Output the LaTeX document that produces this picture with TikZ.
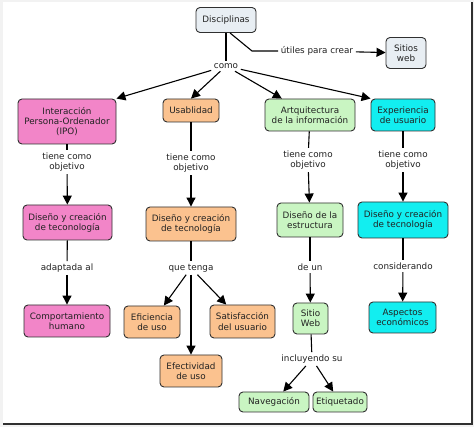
\documentclass[tikz,border=0pt]{standalone}
\usepackage{fontspec}
\setmainfont{DejaVu Sans}
\usetikzlibrary{arrows.meta}
\definecolor{cblue}{HTML}{E8EEF3}
\definecolor{cpink}{HTML}{F285C8}
\definecolor{corange}{HTML}{FBC28F}
\definecolor{cgreen}{HTML}{C9F5C2}
\definecolor{ccyan}{HTML}{12EEF0}
\definecolor{ctext}{HTML}{222222}
\definecolor{cborder}{HTML}{303030}
\tikzset{
  concept/.style={draw=cborder, line width=0.9pt, rounded corners=4pt, align=center,
    inner sep=1pt, text=ctext, font=\fontsize{8.8}{10.2}\selectfont},
  bluebox/.style={concept, fill=cblue},
  pinkbox/.style={concept, fill=cpink},
  orangebox/.style={concept, fill=corange},
  greenbox/.style={concept, fill=cgreen},
  cyanbox/.style={concept, fill=ccyan},
  lbl/.style={align=center, inner sep=2.5pt, text=ctext, font=\fontsize{8.8}{10.2}\selectfont},
  link/.style={draw=black, line width=1.1pt},
  arr/.style={link, -{Triangle[length=9pt,width=9pt]}},
}
\begin{document}
\begin{tikzpicture}[x=1pt,y=-1pt]
\useasboundingbox (0,0) rectangle (474,427);
% frame
\fill[gray!10] (0,0) rectangle (474,427);
\fill[white] (3,2) rectangle (472,424);
\draw[cborder, line width=1.2pt] (3,424) -- (472,424) -- (472,2);

% concepts
\node[bluebox, minimum width=60pt, minimum height=25pt] (disc) at (226,20) {Disciplinas};
\node[bluebox, minimum width=40pt, minimum height=31pt] (sitios) at (406,53) {Sitios\\web};

\node[pinkbox, minimum width=98pt, minimum height=45pt] (ipo) at (67,121.5) {Interacción\\Persona-Ordenador\\(IPO)};
\node[orangebox, minimum width=56pt, minimum height=23pt] (usab) at (191,110.5) {Usablidad};
\node[greenbox, minimum width=90pt, minimum height=32pt] (arq) at (310,115) {Artquitectura\\de la información};
\node[cyanbox, minimum width=64pt, minimum height=32pt] (exp) at (403,115) {Experiencia\\de usuario};

\node[pinkbox, minimum width=89pt, minimum height=35pt] (ipo2) at (67.5,222.5) {Diseño y creación\\de teconología};
\node[orangebox, minimum width=90pt, minimum height=34pt] (usab2) at (191,224) {Diseño y creación\\de tecnología};
\node[greenbox, minimum width=66pt, minimum height=34pt] (arq2) at (310,220) {Diseño de la\\estructura};
\node[cyanbox, minimum width=90pt, minimum height=36pt] (exp2) at (403,220) {Diseño y creación\\de tecnología};

\node[pinkbox, minimum width=86pt, minimum height=32pt] (comp) at (67,321) {Comportamiento\\humano};
\node[orangebox, minimum width=56pt, minimum height=32pt] (efic) at (152,322) {Eficiencia\\de uso};
\node[orangebox, minimum width=65pt, minimum height=33pt] (satis) at (242.5,321.5) {Satisfacción\\del usuario};
\node[orangebox, minimum width=62pt, minimum height=32pt] (efect) at (191,371) {Efectividad\\de uso};
\node[greenbox, minimum width=35pt, minimum height=31pt] (sitio) at (310.5,318.5) {Sitio\\Web};
\node[cyanbox, minimum width=67pt, minimum height=31pt] (aspect) at (402.5,317.5) {Aspectos\\económicos};
\node[greenbox, minimum width=70pt, minimum height=20pt] (nav) at (274,402) {Navegación};
\node[greenbox, minimum width=54pt, minimum height=20pt] (etiq) at (340,402) {Etiquetado};

% linking phrases
\node[lbl] (como) at (226,66) {como};
\node[lbl] (utiles) at (317,51) {útiles para crear};
\node[lbl] (tiene1) at (67,162) {tiene como\\objetivo};
\node[lbl] (tiene2) at (191,163) {tiene como\\objetivo};
\node[lbl] (tiene3) at (308,160) {tiene como\\objetivo};
\node[lbl] (tiene4) at (403,160) {tiene como\\objetivo};
\node[lbl] (adapt) at (67,268) {adaptada al};
\node[lbl] (quet) at (191,268) {que tenga};
\node[lbl] (deun) at (310,267) {de un};
\node[lbl] (consid) at (403,266) {considerando};
\node[lbl] (incl) at (312,359) {incluyendo su};
\coordinate (bend) at (252,51);

% connectors
\draw[link] (disc.south) -- (como);
\draw[link] ([xshift=4pt]disc.south) -- (bend) -- (utiles.west);
\draw[arr] (utiles) -- (sitios);
\draw[arr] (como) -- (ipo.north east);
\draw[arr] (como) -- (usab.north);
\draw[arr] (como) -- (arq);
\draw[arr] (como) -- (exp.north west);

\draw[link] (ipo) -- (tiene1);
\draw[arr] (tiene1) -- (ipo2);
\draw[link] (usab) -- (tiene2);
\draw[arr] (tiene2) -- (usab2);
\draw[link] (arq) -- (tiene3);
\draw[arr] (tiene3) -- (arq2);
\draw[link] (exp) -- (tiene4);
\draw[arr] (tiene4) -- (exp2);

\draw[link] (ipo2) -- (adapt);
\draw[arr] (adapt) -- (comp);
\draw[link] (usab2) -- (quet);
\draw[arr] (quet) -- (efic);
\draw[arr] (quet) -- (efect);
\draw[arr] (quet) -- (satis);
\draw[link] (arq2) -- (deun);
\draw[arr] (deun) -- (sitio);
\draw[link] (exp2) -- (consid);
\draw[arr] (consid) -- (aspect);
\draw[link] (sitio) -- (incl);
\draw[arr] (incl) -- (nav);
\draw[arr] (incl) -- (etiq);
\end{tikzpicture}
\end{document}
